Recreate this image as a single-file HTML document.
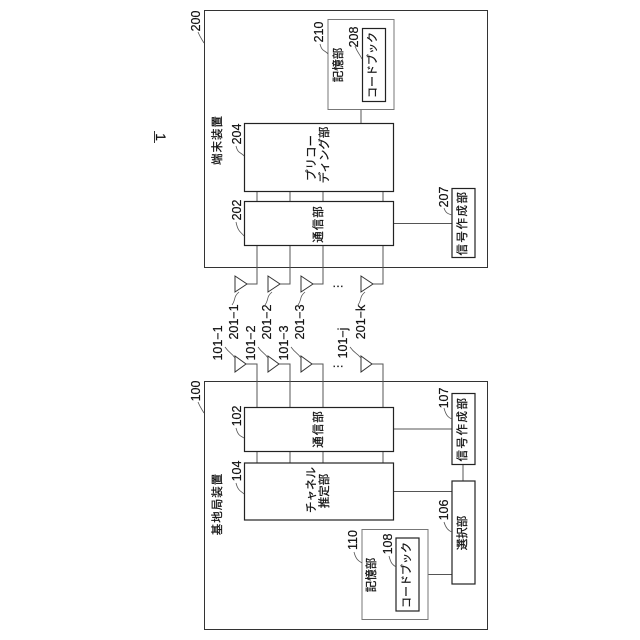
<!DOCTYPE html>
<html><head><meta charset="utf-8"><style>
html,body{margin:0;padding:0;background:#fff}
svg{display:block}
.j{font-family:"Liberation Sans","Noto Sans CJK JP",sans-serif;font-size:11.500px;fill:#111;stroke:#111;stroke-width:.25;text-anchor:middle;dominant-baseline:central}
.n{font-family:"Liberation Sans","Noto Sans CJK JP",sans-serif;font-size:12.500px;fill:#111;stroke:#111;stroke-width:.2;text-anchor:middle;dominant-baseline:central}
.b{fill:#fff;stroke:#222;stroke-width:1.2}
.o{fill:none;stroke:#333;stroke-width:1}
.g{fill:#fff;stroke:#777;stroke-width:1}
.l{fill:none;stroke:#555;stroke-width:1}
.s{fill:none;stroke:#555;stroke-width:.8}
.t{fill:#fff;stroke:#333;stroke-width:1}
</style></head><body>
<svg width="640" height="640" viewBox="0 0 640 640" xmlns="http://www.w3.org/2000/svg">
<rect width="640" height="640" fill="#fff"/>
<rect class="o" x="204.500" y="10.500" width="283" height="257"/>
<rect class="o" x="204.500" y="381.500" width="283" height="248"/>

<!-- upper connectors -->
<path class="l" d="M257 191V284H247M290 191V284H280M323 191V284H313M383 191V284H373M361 109V123M393 223.500H452"/>
<!-- lower connectors -->
<path class="l" d="M246 364H257V463M279 364H290V463M312 364H323V463M372 364H383V463M393 429H452M463 464V481M393 491.500H452M428 574.500H452"/>

<!-- upper blocks -->
<rect class="g" x="328" y="19.500" width="66" height="90"/>
<rect class="b" x="362.500" y="28.500" width="23" height="73"/>
<rect class="b" x="244.500" y="123.500" width="149" height="68"/>
<rect class="b" x="244.500" y="201.500" width="149" height="44"/>
<rect class="b" x="452" y="188.500" width="23" height="69"/>
<!-- lower blocks -->
<rect class="b" x="244.500" y="407.500" width="149" height="44"/>
<rect class="b" x="244.500" y="463" width="149" height="57"/>
<rect class="b" x="452" y="393.500" width="23" height="71"/>
<rect class="b" x="452" y="481" width="23" height="103"/>
<rect class="g" x="362" y="529.500" width="66" height="90"/>
<rect class="b" x="396" y="538" width="23" height="73"/>

<!-- antennas -->
<path class="t" d="M235 276L247 284L235 292ZM268 276L280 284L268 292ZM301 276L313 284L301 292ZM361 276L373 284L361 292Z"/>
<path class="t" d="M235 356L246 364L235 372ZM268 356L279 364L268 372ZM301 356L312 364L301 372ZM361 356L372 364L361 372Z"/>

<!-- leaders -->
<path class="s" d="M198 32C200 37 201 38 204 43M198 402C200 407 201 408 204 413"/>
<path class="s" d="M320 44C322 52 325 50 328 54M355 46C357 52 359 53 362 59M236 146C238 154 241 152 244 156M236 222C238 232 241 232 244 236M444 208C446 214 449 214 452 215"/>
<path class="s" d="M236 428C238 436 241 436 244 438M236 483C238 491 241 491 244 494M444 408C446 416 449 418 452 419M444 522C446 529 449 531 452 532M354 552C356 560 359 561 362 563M389 556C391 564 393 565 396 567"/>
<path class="s" d="M239 292C233 297 236 300 232 305M272 292C266 297 269 300 265 305M305 292C299 297 302 300 298 305M365 292C359 297 362 300 358 305"/>
<path class="s" d="M225 347C230 354 231 352 235 358M258 347C263 354 264 352 268 358M291 347C296 354 297 352 301 358M350 347C355 354 356 352 361 358"/>

<!-- dots -->
<text class="j" x="338" y="283" style="font-size:12px">…</text>
<text class="j" x="338" y="363" style="font-size:12px">…</text>

<!-- title -->
<text class="n" transform="translate(161,137) rotate(90)" style="font-size:14px">1</text>
<path d="M154.500 131V143" stroke="#333" stroke-width="1" fill="none"/>

<!-- japanese labels -->
<text class="j" transform="translate(339,65) rotate(-90)">記憶部</text>
<text class="j" transform="translate(373,65) rotate(-90)" style="font-size:11px">コードブック</text>
<text class="j" transform="translate(218,140) rotate(-90)" style="letter-spacing:1px">端末装置</text>
<text class="j" transform="translate(312,158) rotate(-90)">プリコー</text>
<text class="j" transform="translate(325,155) rotate(-90)">ディング部</text>
<text class="j" transform="translate(319,224) rotate(-90)" style="letter-spacing:1px">通信部</text>
<text class="j" transform="translate(463,223) rotate(-90)" style="letter-spacing:1.500px">信号作成部</text>

<text class="j" transform="translate(319,429) rotate(-90)" style="letter-spacing:1px">通信部</text>
<text class="j" transform="translate(463,429) rotate(-90)" style="letter-spacing:1.500px">信号作成部</text>
<text class="j" transform="translate(218,504) rotate(-90)" style="letter-spacing:1px">基地局装置</text>
<text class="j" transform="translate(312,490) rotate(-90)">チャネル</text>
<text class="j" transform="translate(325,491) rotate(-90)">推定部</text>
<text class="j" transform="translate(463,533) rotate(-90)">選択部</text>
<text class="j" transform="translate(372,575) rotate(-90)">記憶部</text>
<text class="j" transform="translate(407,575) rotate(-90)" style="font-size:11px">コードブック</text>

<!-- numbers -->
<text class="n" transform="translate(196,21) rotate(-90)">200</text>
<text class="n" transform="translate(196,391) rotate(-90)">100</text>
<text class="n" transform="translate(319,32) rotate(-90)">210</text>
<text class="n" transform="translate(354,37) rotate(-90)">208</text>
<text class="n" transform="translate(237,134) rotate(-90)">204</text>
<text class="n" transform="translate(237,210) rotate(-90)">202</text>
<text class="n" transform="translate(444,197) rotate(-90)">207</text>
<text class="n" transform="translate(237,416) rotate(-90)">102</text>
<text class="n" transform="translate(237,471) rotate(-90)">104</text>
<text class="n" transform="translate(444,398) rotate(-90)">107</text>
<text class="n" transform="translate(444,510) rotate(-90)">106</text>
<text class="n" transform="translate(353,540) rotate(-90)">110</text>
<text class="n" transform="translate(388,544) rotate(-90)">108</text>

<text class="n" transform="translate(234,322) rotate(-90)">201−1</text>
<text class="n" transform="translate(267,322) rotate(-90)">201−2</text>
<text class="n" transform="translate(300,322) rotate(-90)">201−3</text>
<text class="n" transform="translate(361,322) rotate(-90)">201−k</text>
<text class="n" transform="translate(218,343) rotate(-90)">101−1</text>
<text class="n" transform="translate(251,343) rotate(-90)">101−2</text>
<text class="n" transform="translate(284,343) rotate(-90)">101−3</text>
<text class="n" transform="translate(343,343) rotate(-90)">101−j</text>
</svg>
</body></html>
